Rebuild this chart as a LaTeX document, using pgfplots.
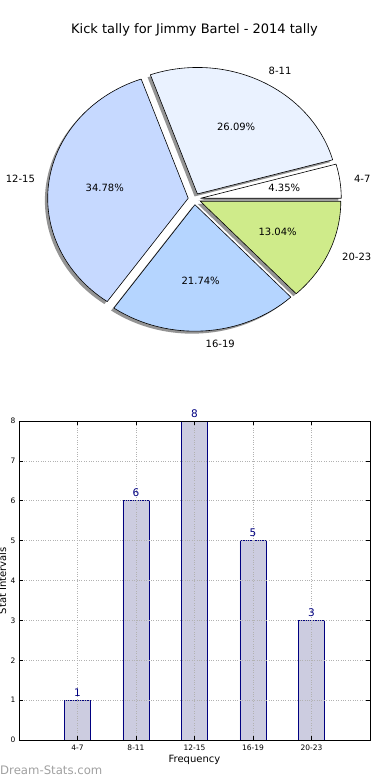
\documentclass[border=0pt]{standalone}
\usepackage{pgfplots}
\usepackage{pgfplotstable}
\pgfplotsset{compat=1.18}
\usepackage{fontspec}
\setmainfont{DejaVu Sans}

\definecolor{c47}{HTML}{FFFFFF}
\definecolor{c811}{HTML}{EAF2FF}
\definecolor{c1215}{HTML}{C6D9FF}
\definecolor{c1619}{HTML}{B5D5FF}
\definecolor{c2023}{HTML}{CFEB8A}
\definecolor{barfill}{HTML}{CCCCE0}
\definecolor{navy}{HTML}{000080}
\definecolor{wm}{HTML}{A0A0A0}

\pgfplotstableread{
label count
4-7 1
8-11 6
12-15 8
16-19 5
20-23 3
}\kicks

% pie geometry (pt = axis units): centre, radii, explode fraction
\def\CX{194.5}
\def\CY{-199}
\def\RX{140.5}
\def\RY{126.5}
\def\EX{0.045}

\newcommand\pieShadow[2]{%
  \fill[black!42, xshift=-2.8pt, yshift=-2.5pt]
   (axis cs:{\CX+\EX*\RX*cos((#1+#2)/2)},{\CY+\EX*\RY*sin((#1+#2)/2)})
   -- ++(axis direction cs:{\RX*cos(#1)},{\RY*sin(#1)})
   arc[start angle=#1, end angle=#2, x radius=\RX pt, y radius=\RY pt] -- cycle;}
\newcommand\pieWedge[3]{%
  \fill[#3, draw=black, line width=0.6pt, line join=round]
   (axis cs:{\CX+\EX*\RX*cos((#1+#2)/2)},{\CY+\EX*\RY*sin((#1+#2)/2)})
   -- ++(axis direction cs:{\RX*cos(#1)},{\RY*sin(#1)})
   arc[start angle=#1, end angle=#2, x radius=\RX pt, y radius=\RY pt] -- cycle;}
\newcommand\pieLabel[4]{% start end anchor text
  \node[anchor=#3, inner sep=0pt, font=\fontsize{10}{12}\selectfont]
   at (axis cs:{\CX+(1.1+\EX)*\RX*cos((#1+#2)/2)},{\CY+(1.1+\EX)*\RY*sin((#1+#2)/2)}) {#4};}
\newcommand\piePct[3]{% start end value
  \node[inner sep=0pt, font=\fontsize{10}{12}\selectfont]
   at (axis cs:{\CX+(0.6+\EX)*\RX*cos((#1+#2)/2)},{\CY+(0.6+\EX)*\RY*sin((#1+#2)/2)})
   {\pgfmathprintnumber[fixed,precision=2,fixed zerofill,assume math mode=true]{#3}\%};}

\begin{document}
\begin{tikzpicture}
\useasboundingbox (0pt,0pt) rectangle (390pt,-780pt);

\pgfplotstablegetelem{0}{count}\of\kicks \pgfmathsetmacro\cA{\pgfplotsretval}
\pgfplotstablegetelem{1}{count}\of\kicks \pgfmathsetmacro\cB{\pgfplotsretval}
\pgfplotstablegetelem{2}{count}\of\kicks \pgfmathsetmacro\cC{\pgfplotsretval}
\pgfplotstablegetelem{3}{count}\of\kicks \pgfmathsetmacro\cD{\pgfplotsretval}
\pgfplotstablegetelem{4}{count}\of\kicks \pgfmathsetmacro\cE{\pgfplotsretval}
\pgfmathsetmacro\tot{\cA+\cB+\cC+\cD+\cE}
\pgfmathsetmacro\sA{0}
\pgfmathsetmacro\sB{\sA+360*\cA/\tot}
\pgfmathsetmacro\sC{\sB+360*\cB/\tot}
\pgfmathsetmacro\sD{\sC+360*\cC/\tot}
\pgfmathsetmacro\sE{\sD+360*\cD/\tot}
\pgfmathsetmacro\sF{360}
\pgfmathsetmacro\pA{100*\cA/\tot}
\pgfmathsetmacro\pB{100*\cB/\tot}
\pgfmathsetmacro\pC{100*\cC/\tot}
\pgfmathsetmacro\pD{100*\cD/\tot}
\pgfmathsetmacro\pE{100*\cE/\tot}

% ---------- pie ----------
\begin{axis}[
  at={(0pt,0pt)}, anchor=north west,
  scale only axis, width=390pt, height=390pt,
  xmin=0, xmax=390, ymin=-390, ymax=0,
  hide axis, clip=false]
\node[font=\fontsize{13}{15}\selectfont] at (axis cs:194.5,-30) {Kick tally for Jimmy Bartel - 2014 tally};
\pieShadow{\sA}{\sB}
\pieShadow{\sB}{\sC}
\pieShadow{\sC}{\sD}
\pieShadow{\sD}{\sE}
\pieShadow{\sE}{\sF}
\pieWedge{\sA}{\sB}{c47}
\pieWedge{\sB}{\sC}{c811}
\pieWedge{\sC}{\sD}{c1215}
\pieWedge{\sD}{\sE}{c1619}
\pieWedge{\sE}{\sF}{c2023}
\pieLabel{\sA}{\sB}{west}{4-7}
\pieLabel{\sB}{\sC}{west}{8-11}
\pieLabel{\sC}{\sD}{east}{12-15}
\pieLabel{\sD}{\sE}{west}{16-19}
\pieLabel{\sE}{\sF}{west}{20-23}
\piePct{\sA}{\sB}{\pA}
\piePct{\sB}{\sC}{\pB}
\piePct{\sC}{\sD}{\pC}
\piePct{\sD}{\sE}{\pD}
\piePct{\sE}{\sF}{\pE}
\end{axis}

% ---------- bars ----------
\begin{axis}[
  at={(19pt,-740pt)}, anchor=south west,
  scale only axis, width=351pt, height=319pt,
  xmin=-1, xmax=5, ymin=0, ymax=8,
  xtick={0,...,4}, xticklabels={4-7,8-11,12-15,16-19,20-23},
  ytick={0,...,8},
  tick align=inside, major tick length=4pt,
  grid=major, grid style={dotted, black!30, line width=0.7pt},
  axis on top, clip=false,
  axis line style={black, line width=0.8pt},
  tick style={black, line width=0.6pt},
  /pgf/number format/assume math mode=true,
  ticklabel style={font=\fontsize{7.5}{9}\selectfont},
  xticklabel style={inner sep=0pt, anchor=north, yshift=-4.5pt},
  yticklabel style={inner sep=0pt, anchor=east, xshift=-3.5pt},
  xlabel={Frequency}, ylabel={Stat Intervals},
  label style={font=\fontsize{10}{12}\selectfont},
  xlabel style={at={(axis description cs:0.5,-0.0627)}, anchor=center},
  ylabel style={at={(axis description cs:-0.047,0.5)}, anchor=center},
]
\addplot[ybar, bar width=26pt, fill=barfill, draw=navy, line width=0.6pt,
  nodes near coords,
  nodes near coords style={text=navy, font=\fontsize{10.5}{12}\selectfont, inner sep=3.5pt}]
  table[x expr=\coordindex, y=count] {\kicks};
\end{axis}

\node[anchor=west, inner sep=0pt, text=wm, font=\fontsize{11.7}{14}\selectfont] at (0pt,-770pt) {Dream-Stats.com};
\end{tikzpicture}
\end{document}
